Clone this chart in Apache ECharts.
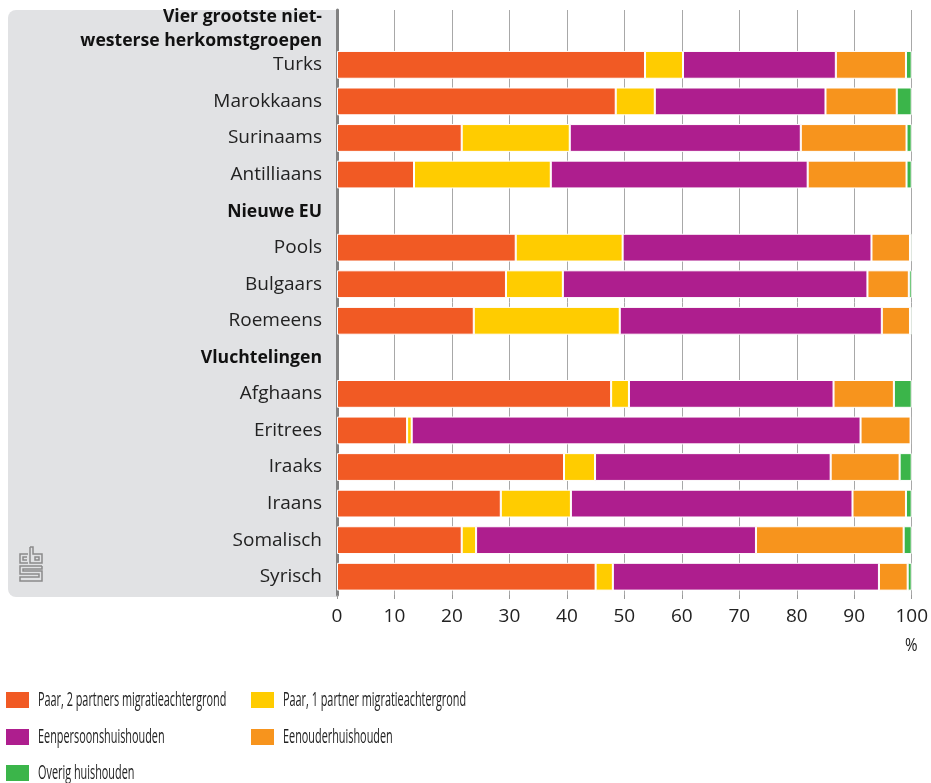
<!DOCTYPE html>
<html>
<head>
<meta charset="utf-8">
<script src="https://cdn.jsdelivr.net/npm/echarts@6/dist/echarts.min.js"></script>
<style>
  html, body { margin: 0; padding: 0; background: #fff; }
  #chart { width: 931px; height: 783px; }
</style>
</head>
<body>
<div id="chart"></div>
<script>
// categorieën, van boven naar beneden (koppen zonder balk)
const categories = ['Vier grootste niet-\nwesterse herkomstgroepen', 'Turks', 'Marokkaans', 'Surinaams', 'Antilliaans',
    'Nieuwe EU', 'Pools', 'Bulgaars', 'Roemeens',
    'Vluchtelingen', 'Afghaans', 'Eritrees', 'Iraaks', 'Iraans', 'Somalisch', 'Syrisch'];
const headers = ['Vier grootste niet-\nwesterse herkomstgroepen', 'Nieuwe EU', 'Vluchtelingen'];

const seriesNames = ['Paar, 2 partners migratieachtergrond', 'Paar, 1 partner migratieachtergrond',
    'Eenpersoonshuishouden', 'Eenouderhuishouden', 'Overig huishouden'];

const paar2 = [null, 53.6, 48.5, 21.7, 13.4, null, 31.1, 29.4, 23.8, null, 47.7, 12.2, 39.5, 28.5, 21.7, 45.0];
const paar1 = [null, 6.6, 6.8, 18.8, 23.8, null, 18.6, 9.9, 25.4, null, 3.1, 0.8, 5.4, 12.2, 2.5, 3.0];
const eenpersoons = [null, 26.6, 29.7, 40.2, 44.7, null, 43.3, 53.0, 45.6, null, 35.6, 78.1, 41.0, 49.0, 48.7, 46.3];
const eenouder = [null, 12.2, 12.4, 18.4, 17.2, null, 6.7, 7.2, 4.9, null, 10.5, 8.7, 12.0, 9.3, 25.7, 5.0];
const overig = [null, 1.0, 2.6, 0.9, 0.9, null, 0.3, 0.5, 0.3, null, 3.1, 0.0, 2.1, 1.0, 1.4, 0.7];

const colors = ['#f15a24', '#ffcc00', '#ae1e8e', '#f7941d', '#3bb54a'];
const values = [paar2, paar1, eenpersoons, eenouder, overig];

const chart = echarts.init(document.getElementById('chart'));

// CBS-logo, ruwweg
const logoStyle = { stroke: '#8a8a8a', lineWidth: 1.5, fill: null };
const logo = [
    { type: 'polyline', shape: { points: [[28, 554], [20, 554], [20, 563], [28, 563]] } },
    { type: 'polyline', shape: { points: [[27, 557], [23, 557], [23, 560], [27, 560]] } },
    { type: 'polyline', shape: { points: [[30, 547], [30, 563], [42, 563], [42, 554], [33, 554], [33, 547], [30, 547]] } },
    { type: 'rect', shape: { x: 35, y: 557, width: 4, height: 3 } },
    { type: 'polyline', shape: { points: [[42, 566], [20, 566], [20, 574], [39, 574], [39, 577], [20, 577], [20, 581], [42, 581], [42, 571], [23, 571], [23, 569], [42, 569], [42, 566]] } }
].map(o => Object.assign(o, { style: logoStyle, z: 1 }));

// legenda: blokjes via legend, tekst smal gezet (smal font ontbreekt)
const legendPos = [[4, 699], [249, 699], [4, 736], [249, 736], [4, 772]];
const legends = seriesNames.map((name, i) => ({
    data: [name], left: legendPos[i][0], top: legendPos[i][1] - 9, padding: 0,
    itemWidth: 25, itemHeight: 18, icon: 'rect',
    formatter: () => '', textStyle: { fontSize: 1 }
}));
const legendTexts = seriesNames.map((name, i) => ({
    type: 'text', x: legendPos[i][0] + 34, y: legendPos[i][1] + 1, scaleX: 0.53,
    style: { text: name, x: 0, y: 0, verticalAlign: 'middle', font: '20.5px "Open Sans"', fill: '#222' }
}));

const option = {
    animation: false,
    color: colors,
    textStyle: { fontFamily: 'Open Sans' },
    graphic: [
        { type: 'rect', shape: { x: 8, y: 10, width: 330, height: 587, r: [8, 0, 0, 8] }, style: { fill: '#e1e2e4' }, z: -1 },
        { type: 'text', x: 905, y: 646, scaleX: 0.8, style: { text: '%', x: 0, y: 0, verticalAlign: 'middle', font: '19px "Open Sans"', fill: '#222' } }
    ].concat(logo, legendTexts),
    grid: { left: 337, right: 19, top: 10, bottom: 188, containLabel: false },
    legend: legends,
    xAxis: {
        type: 'value', min: 0, max: 100, interval: 10,
        axisLine: { show: false },
        axisTick: { show: true, length: 4, lineStyle: { color: '#999' } },
        axisLabel: { fontSize: 19, color: '#222', margin: 12 },
        splitLine: { show: true, lineStyle: { color: '#a8a8a8', width: 1 } }
    },
    yAxis: {
        type: 'category', inverse: true, data: categories,
        axisLine: { show: true, lineStyle: { color: '#808080', width: 3 } },
        axisTick: { show: false },
        axisLabel: {
            margin: 15, fontSize: 19, color: '#222', align: 'right',
            formatter: v => headers.includes(v) ? '{h|' + v.split('\n').join('}\n{h|') + '}' : v,
            rich: { h: { fontWeight: 'bold', fontSize: 17.6, color: '#111', lineHeight: 24, fontFamily: 'Open Sans', padding: [2, 0, 0, 0] } }
        }
    },
    series: seriesNames.map((name, i) => ({
        name: name, type: 'bar', stack: 'totaal', data: values[i],
        barCategoryGap: '24%',
        itemStyle: { borderColor: '#fff', borderWidth: 1 },
        z: 3
    }))
};
chart.setOption(option);
window.addEventListener('resize', () => chart.resize());
</script>
</body>
</html>
